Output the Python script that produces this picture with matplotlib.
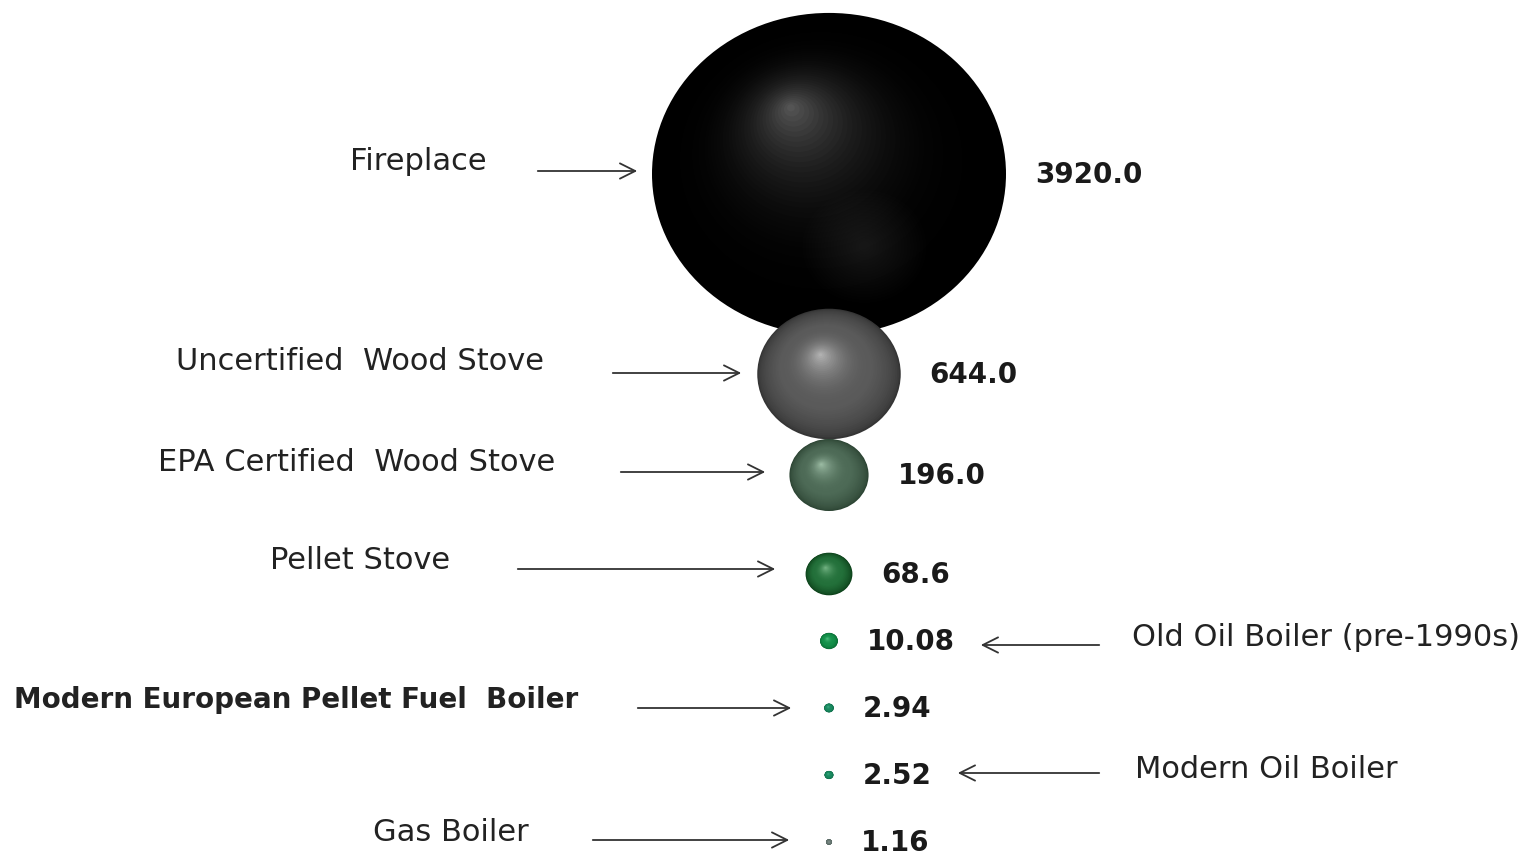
import numpy as np
import matplotlib.pyplot as plt
from matplotlib.colors import to_rgb
from matplotlib.patches import Ellipse

plt.rcParams['font.family'] = ['DejaVu Sans']

labels = ['Fireplace', 'Uncertified  Wood Stove', 'EPA Certified  Wood Stove',
          'Pellet Stove', 'Old Oil Boiler (pre-1990s)',
          'Modern European Pellet Fuel  Boiler', 'Modern Oil Boiler', 'Gas Boiler']
values = [3920.0, 644.0, 196.0, 68.6, 10.08, 2.94, 2.52, 1.16]
value_text = ['3920.0', '644.0', '196.0', '68.6', '10.08', '2.94', '2.52', '1.16']
label_side = ['left', 'left', 'left', 'left', 'right', 'left', 'right', 'left']

# layout (figure pixels, y down)
W, H = 1532, 855
cx = 829
row_y = [174, 374, 475, 574, 641, 708, 775, 842]
r_max = 177
squash = 0.91  # source picture is slightly stretched sideways
text_x = [418, 360, 357, 360, 1132, 14, 1135, 451]
text_y = [162, 361, 462, 560, 637, 700, 769, 832]
arrow_x = [(535, 640), (610, 744), (618, 768), (515, 778), (1102, 978),
           (635, 794), (1102, 955), (590, 792)]
arrow_y = [171, 373, 472, 569, 645, 708, 773, 840]

# (edge, body, highlight) colours per bubble
shades = [('#000000', '#050505', '#5a5a5a'),
          ('#353535', '#5a5a5a', '#b8b8b8'),
          ('#2c4433', '#4d6a56', '#a0c0a8'),
          ('#0c4019', '#23703a', '#78b888'),
          ('#0a6a34', '#14904a', '#50c080'),
          ('#0f6a48', '#1a8a60', '#40b088'),
          ('#0f6a48', '#1a8a60', '#40b088'),
          ('#4a5a55', '#6a7a75', '#8a9a95')]
hl_pos = [(-0.22, -0.42), (-0.12, -0.3), (-0.2, -0.3), (-0.15, -0.3),
          (-0.2, -0.3), (-0.2, -0.3), (-0.2, -0.3), (0, 0)]

fig = plt.figure(figsize=(W / 100, H / 100), dpi=100)
ax = fig.add_axes([0, 0, 1, 1])
ax.set_xlim(0, W)
ax.set_ylim(H, 0)
ax.axis('off')

radii = r_max * np.sqrt(np.array(values) / max(values))


def blend(a, b, t):
    a, b = np.array(to_rgb(a)), np.array(to_rgb(b))
    return tuple(a + (b - a) * t)


steps = 45
for i, v in enumerate(values):
    r = radii[i]
    y = row_y[i]
    edge, body, hl = shades[i]
    ox, oy = hl_pos[i]
    for k in range(steps):
        t = k / steps
        rr = r * (1 - t)
        px = cx + ox * r * t
        py = y + oy * r * squash * t
        if t < 0.35:
            col = blend(edge, body, (t / 0.35) ** 0.6)
        else:
            col = blend(body, hl, ((t - 0.35) / 0.65) ** 2.2)
        if i == 0:
            col = blend(edge, hl, t ** 3.2)
        ax.add_patch(Ellipse((px, py), 2 * rr, 2 * rr * squash, color=col,
                             lw=0, zorder=2 + i))
    if i == 0:
        # faint second reflection on the big sphere
        for k in range(20):
            rr = 0.35 * r * (1 - k / 20)
            ax.add_patch(Ellipse((cx + 0.2 * r, y + 0.45 * r * squash), 2 * rr,
                                 2 * rr * squash, color='#404040', alpha=0.025,
                                 lw=0, zorder=2))

    ax.text(cx + r + 29, y + 1, value_text[i], fontsize=20, fontweight='bold',
            color='#1a1a1a', ha='left', va='center', zorder=20)

    if label_side[i] == 'right' or labels[i].startswith('Modern European'):
        ha = 'left'
    else:
        ha = 'center'
    bold = 'bold' if labels[i].startswith('Modern European') else 'normal'
    size = 20 if bold == 'bold' else 22
    ax.text(text_x[i], text_y[i], labels[i], fontsize=size, fontweight=bold,
            color='#222222', ha=ha, va='center')
    x0, x1 = arrow_x[i]
    ax.annotate('', xy=(x1, arrow_y[i]), xytext=(x0, arrow_y[i]),
                arrowprops=dict(arrowstyle='->,head_length=1.1,head_width=0.55',
                                lw=1.3, color='#333333'))

fig.savefig('out.png', dpi=100)
